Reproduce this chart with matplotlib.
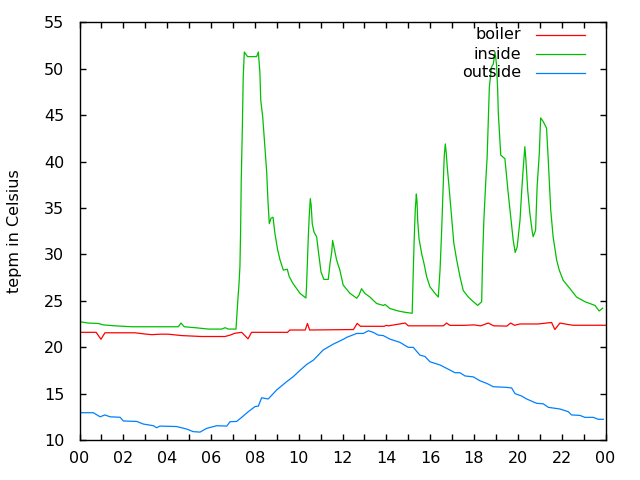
import matplotlib
matplotlib.use("Agg")
import matplotlib.pyplot as plt
from matplotlib.ticker import MultipleLocator, FixedLocator

# ---- data (hours of day, temperature in Celsius) ----
boiler_t = [0.0, 0.76, 0.98, 1.16, 2.53, 3.06, 3.3, 3.7, 4.05, 4.66, 5.57, 6.64, 6.87, 7.09,
            7.4, 7.69, 7.85, 9.49, 9.6, 10.3, 10.4, 10.5, 12.5, 12.67, 12.82, 13.9, 14.0,
            14.1, 14.86, 15.0, 16.6, 16.75, 16.9, 17.5, 18.0, 18.3, 18.65, 18.9, 19.5,
            19.67, 19.85, 20.1, 20.93, 21.54, 21.69, 21.92, 22.3, 22.53, 24.0]
boiler_v = [21.6, 21.6, 20.85, 21.55, 21.55, 21.4, 21.35, 21.4, 21.4, 21.25, 21.15, 21.15,
            21.3, 21.5, 21.6, 20.9, 21.6, 21.6, 21.85, 21.85, 22.56, 21.85, 21.9, 22.56,
            22.25, 22.25, 22.35, 22.3, 22.6, 22.3, 22.3, 22.6, 22.35, 22.35, 22.4, 22.3,
            22.6, 22.3, 22.27, 22.6, 22.36, 22.5, 22.5, 22.66, 21.9, 22.6, 22.44, 22.36, 22.36]

inside_t = [0.0, 0.4, 0.86, 1.09, 1.62, 2.38, 4.51, 4.63, 4.78, 5.27, 5.88, 6.5, 6.64, 6.79,
            7.14, 7.22, 7.28, 7.32, 7.35, 7.38, 7.43, 7.47, 7.52, 7.67, 8.08, 8.16, 8.23,
            8.27, 8.36, 8.42, 8.48, 8.54, 8.60, 8.66, 8.74, 8.83, 8.92, 9.04, 9.15, 9.30,
            9.48, 9.57, 9.73, 10.06, 10.33, 10.36, 10.44, 10.48, 10.53, 10.57, 10.62, 10.70,
            10.82, 10.89, 11.02, 11.15, 11.35, 11.43, 11.51, 11.55, 11.61, 11.73, 11.88,
            12.03, 12.34, 12.65, 12.75, 12.87, 13.02, 13.25, 13.56, 13.86, 13.94, 14.16,
            14.54, 14.85, 15.18, 15.23, 15.27, 15.32, 15.37, 15.40, 15.43, 15.49, 15.61,
            15.72, 15.84, 15.99, 16.22, 16.37, 16.45, 16.52, 16.60, 16.64, 16.69, 16.73,
            16.78, 16.86, 16.98, 17.08, 17.21, 17.36, 17.51, 17.74, 17.97, 18.17, 18.35,
            18.39, 18.45, 18.54, 18.60, 18.65, 18.70, 18.80, 18.88, 18.96, 19.03, 19.08,
            19.11, 19.18, 19.22, 19.41, 19.49, 19.56, 19.69, 19.79, 19.88, 19.97, 20.10,
            20.17, 20.25, 20.32, 20.37, 20.45, 20.55, 20.66, 20.70, 20.81, 20.88, 20.98,
            21.04, 21.16, 21.31, 21.39, 21.50, 21.61, 21.77, 21.89, 22.07, 22.38, 22.68,
            23.06, 23.52, 23.71, 23.87]
inside_v = [22.75, 22.6, 22.55, 22.4, 22.3, 22.2, 22.2, 22.6, 22.2, 22.1, 21.95, 21.95, 22.1,
            21.95, 21.95, 24.9, 26.9, 28.7, 32.4, 38.0, 43.6, 49.1, 51.8, 51.3, 51.3, 51.8,
            49.6, 46.6, 44.8, 42.8, 40.9, 38.9, 35.7, 33.3, 33.9, 34.0, 32.2, 30.5, 29.4,
            28.3, 28.4, 27.6, 26.9, 25.8, 25.3, 26.6, 31.9, 34.0, 36.0, 35.3, 33.3, 32.4,
            31.9, 30.5, 28.1, 27.3, 27.3, 29.0, 30.3, 31.5, 30.8, 29.4, 28.3, 26.7, 25.8,
            25.27, 25.6, 26.3, 25.8, 25.4, 24.7, 24.5, 24.6, 24.17, 23.9, 23.76, 23.65, 28.3,
            31.5, 34.8, 36.5, 35.7, 33.7, 31.7, 30.1, 29.0, 27.6, 26.5, 25.8, 25.4, 28.3,
            32.3, 37.6, 40.5, 41.9, 41.0, 39.4, 37.3, 34.0, 31.2, 29.4, 27.6, 26.1, 25.4,
            24.9, 24.5, 24.9, 29.4, 33.7, 38.0, 40.5, 44.4, 48.0, 50.2, 50.5, 51.8, 50.4,
            47.7, 45.2, 42.3, 40.7, 40.3, 38.3, 36.6, 33.7, 31.5, 30.2, 30.8, 33.7, 36.6,
            39.4, 41.6, 40.1, 36.9, 34.4, 32.4, 31.9, 32.6, 37.3, 40.9, 44.7, 44.3, 43.6,
            40.1, 34.8, 31.9, 29.4, 28.3, 27.2, 26.3, 25.4, 24.9, 24.5, 23.9, 24.2]

outside_t = [0.0, 0.63, 0.94, 1.16, 1.39, 1.85, 2.0, 2.61, 2.91, 3.37, 3.52, 3.67, 4.43, 4.89,
             5.19, 5.50, 5.80, 6.26, 6.72, 6.87, 7.17, 7.40, 7.70, 8.01, 8.16, 8.31, 8.61,
             9.0, 9.45, 9.75, 10.06, 10.37, 10.67, 11.12, 11.58, 12.03, 12.19, 12.65, 12.95,
             13.18, 13.40, 13.63, 13.86, 14.16, 14.62, 15.0, 15.23, 15.53, 15.76, 15.99,
             16.45, 16.90, 17.13, 17.36, 17.59, 17.97, 18.27, 18.58, 18.88, 19.49, 19.72,
             19.87, 20.17, 20.40, 20.86, 21.16, 21.39, 21.92, 22.30, 22.45, 22.83, 23.06,
             23.44, 23.67, 23.9]
outside_v = [12.94, 12.94, 12.5, 12.7, 12.5, 12.45, 12.05, 12.0, 11.72, 11.54, 11.32, 11.5,
             11.45, 11.18, 10.9, 10.85, 11.25, 11.54, 11.5, 11.97, 12.0, 12.44, 13.05, 13.6,
             13.65, 14.55, 14.42, 15.4, 16.28, 16.82, 17.5, 18.15, 18.6, 19.7, 20.33, 20.84,
             21.06, 21.48, 21.48, 21.77, 21.6, 21.3, 21.25, 20.87, 20.52, 19.98, 19.98, 19.15,
             19.0, 18.43, 18.08, 17.54, 17.25, 17.25, 16.9, 16.8, 16.38, 16.1, 15.74, 15.67,
             15.6, 15.0, 14.74, 14.42, 13.95, 13.9, 13.52, 13.34, 13.05, 12.7, 12.65, 12.44,
             12.44, 12.23, 12.23]

labels = ["boiler", "inside", "outside"]
colors = ["#ff0000", "#00c000", "#0080ff"]
xtick_labels = ["00", "02", "04", "06", "08", "10", "12", "14", "16", "18", "20", "22", "00"]
ylabel = "tepm in Celsius"

plt.rcParams["font.family"] = ["DejaVu Sans"]
fig = plt.figure(figsize=(6.4, 4.8), dpi=100)
ax = fig.add_axes([79.5 / 640, 40 / 480, 526 / 640, 417.7 / 480])

series = [(boiler_t, boiler_v), (inside_t, inside_v), (outside_t, outside_v)]
for (t, v), c in zip(series, colors):
    ax.plot(t, v, color=c, lw=0.9)

ax.set_xlim(0, 24)
ax.set_ylim(10, 55)
ax.xaxis.set_major_locator(FixedLocator(list(range(0, 25, 2))))
ax.set_xticklabels(xtick_labels)
ax.xaxis.set_minor_locator(MultipleLocator(1))
ax.yaxis.set_major_locator(MultipleLocator(5))

for s in ax.spines.values():
    s.set_linewidth(1.0)
ax.tick_params(which="both", direction="in", top=True, right=True, width=1.0,
               labelsize=11.5, colors="black")
ax.tick_params(which="major", length=4.5)
ax.tick_params(which="minor", length=4.5)
ax.tick_params(axis="y", pad=11)
ax.tick_params(axis="x", pad=8)

ax.set_ylabel(ylabel, fontsize=11.5)
ax.yaxis.set_label_coords(-0.110, 0.5)

# legend (gnuplot style: right-aligned text, sample line after it)
rows_y = [0.9696, 0.924, 0.879]
for lab, c, yy in zip(labels, colors, rows_y):
    ax.text(0.839, yy, lab, transform=ax.transAxes, ha="right", va="center",
            fontsize=11.5)
    ax.plot([0.868, 0.961], [yy, yy], transform=ax.transAxes, color=c, lw=0.9)

fig.savefig("out.png", dpi=100)
